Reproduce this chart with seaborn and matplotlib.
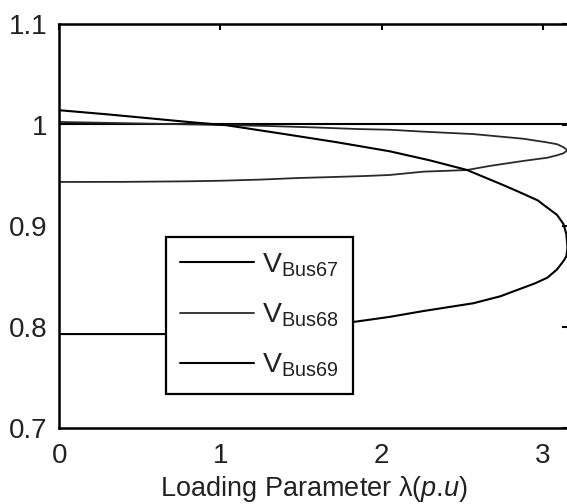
import numpy as np
import pandas as pd
import matplotlib
matplotlib.use("Agg")
import matplotlib.pyplot as plt
import seaborn as sns

# ---- data ----
bus67_lam = [0.0, 1.0, 2.0, 3.0, 3.155]
bus67_v = [1.001, 1.001, 1.001, 1.001, 1.001]

bus68_lam = [0.0, 0.5, 1.0, 1.3, 1.6, 1.85, 2.05, 2.26, 2.57, 2.88, 3.02, 3.09, 3.13, 3.155,
             3.13, 3.09, 3.03, 2.88, 2.67, 2.53, 2.26, 2.05, 1.9, 1.7, 1.48, 1.26, 1.0, 0.77, 0.4, 0.0]
bus68_v = [1.003, 1.0015, 1.0, 0.999, 0.9975, 0.996, 0.9953, 0.9934, 0.991, 0.9864, 0.983, 0.981, 0.978, 0.975,
           0.972, 0.970, 0.9676, 0.9644, 0.9594, 0.9554, 0.9538, 0.9505, 0.9495, 0.9485, 0.9475, 0.946, 0.9448, 0.9442, 0.9437, 0.9436]

bus69_lam = [0.0, 0.3, 0.6, 0.8, 1.04, 1.41, 1.72, 2.05, 2.3, 2.53, 2.74, 2.84, 2.97, 3.03, 3.09,
             3.13, 3.148, 3.155, 3.148, 3.13, 3.09, 3.03, 2.95, 2.84, 2.74, 2.57, 2.26, 2.05, 1.84, 1.5, 1.0, 0.66, 0.3, 0.0]
bus69_v = [1.0146, 1.0105, 1.006, 1.003, 0.9997, 0.9907, 0.983, 0.974, 0.965, 0.9555, 0.9416, 0.9347, 0.9254, 0.9181, 0.911,
           0.902, 0.892, 0.8785, 0.870, 0.8653, 0.857, 0.8488, 0.843, 0.8365, 0.8305, 0.8235, 0.8158, 0.810, 0.8053, 0.800, 0.795, 0.793, 0.793, 0.793]

labels = [r"$\mathregular{V_{Bus67}}$", r"$\mathregular{V_{Bus68}}$", r"$\mathregular{V_{Bus69}}$"]
xticks = [0, 1, 2, 3]
yticks = [0.7, 0.8, 0.9, 1.0, 1.1]
yticklabels = ["0.7", "0.8", "0.9", "1", "1.1"]

frames = []
for name, lam, v in [("Bus67", bus67_lam, bus67_v), ("Bus68", bus68_lam, bus68_v), ("Bus69", bus69_lam, bus69_v)]:
    frames.append(pd.DataFrame({"lam": lam, "V": v, "bus": name}))
df = pd.concat(frames, ignore_index=True)

sns.set_style("white")
plt.rcParams["font.family"] = ["Liberation Sans", "DejaVu Sans"]
plt.rcParams["mathtext.fontset"] = "custom"
plt.rcParams["mathtext.rm"] = "Liberation Sans"
plt.rcParams["mathtext.it"] = "Liberation Sans:italic"

fig = plt.figure(figsize=(5.67, 5.04), dpi=100)
ax = fig.add_axes([0.1049, 0.1508, 0.8968, 0.8016])

palette = {"Bus67": "#000000", "Bus68": "#2a2a2a", "Bus69": "#000000"}
sns.lineplot(data=df, x="lam", y="V", hue="bus", palette=palette, sort=False,
             estimator=None, legend=False, ax=ax, linewidth=1.5)
ax.lines[1].set_linewidth(1.3)

ax.set_xlim(0, 3.158)
ax.set_ylim(0.7, 1.1)
ax.set_xticks(xticks)
ax.set_xticklabels([str(t) for t in xticks])
ax.set_yticks(yticks)
ax.set_yticklabels(yticklabels)
ax.tick_params(direction="in", length=4, width=1.5, top=True, right=True,
               labelsize=20, colors="black", labelcolor="#222222")
ax.tick_params(axis="x", pad=10.5)
ax.tick_params(axis="y", pad=8.5)
for s in ax.spines.values():
    s.set_linewidth(1.8)
    s.set_color("black")

ax.set_xlabel(r"Loading Parameter λ($\mathit{p}$.$\mathit{u}$)", fontsize=19.5, color="#222222", labelpad=4)
ax.set_ylabel("")

leg = ax.legend(handles=ax.lines[:3], labels=labels, loc="upper left",
                bbox_to_anchor=(0.2094, 0.4728), borderaxespad=0,
                fontsize=20.5, handlelength=2.6, handletextpad=0.28,
                labelspacing=0.8, borderpad=0.5, fancybox=False,
                framealpha=1, edgecolor="black")
leg.get_frame().set_linewidth(1.6)
for t in leg.get_texts():
    t.set_color("#222222")

fig.savefig("out.png", dpi=100)
